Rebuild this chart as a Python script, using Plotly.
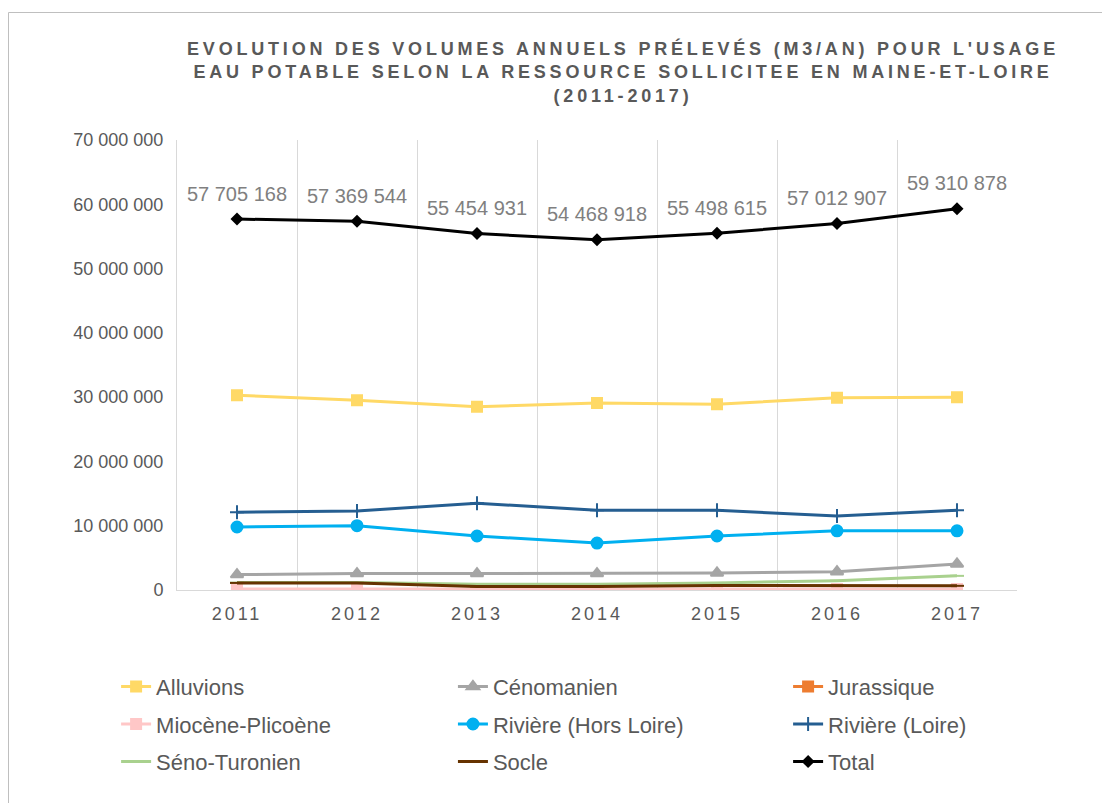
import plotly.graph_objects as go

years = ["2011", "2012", "2013", "2014", "2015", "2016", "2017"]

alluvions = [30300000, 29500000, 28500000, 29100000, 28900000, 29900000, 30000000]
cenomanien = [2400000, 2550000, 2550000, 2550000, 2650000, 2850000, 4050000]
jurassique = [30000, 30000, 30000, 30000, 30000, 30000, 30000]
miocene = [150000, 150000, 150000, 150000, 150000, 150000, 150000]
riviere_hors_loire = [9800000, 10000000, 8400000, 7300000, 8400000, 9200000, 9200000]
riviere_loire = [12100000, 12300000, 13500000, 12400000, 12400000, 11500000, 12400000]
seno_turonien = [1150000, 1150000, 900000, 900000, 1100000, 1450000, 2200000]
socle = [1100000, 1100000, 550000, 550000, 700000, 650000, 650000]
total = [57705168, 57369544, 55454931, 54468918, 55498615, 57012907, 59310878]
total_labels = ["57 705 168", "57 369 544", "55 454 931", "54 468 918",
                "55 498 615", "57 012 907", "59 310 878"]
y_tickvals = [0, 10000000, 20000000, 30000000, 40000000, 50000000, 60000000, 70000000]
y_ticktext = ["0", "10 000 000", "20 000 000", "30 000 000", "40 000 000",
              "50 000 000", "60 000 000", "70 000 000"]

# name, values, color, symbol, size, legend column
series = [
    ("Alluvions", alluvions, "#FFD966", "square", 10, "legend"),
    ("Cénomanien", cenomanien, "#A5A5A5", "triangle-up", 11, "legend2"),
    ("Jurassique", jurassique, "#ED7D31", "square", 10, "legend3"),
    ("Miocène-Plicoène", miocene, "#FFC7C7", "square", 10, "legend"),
    ("Rivière (Hors Loire)", riviere_hors_loire, "#00B0F0", "circle", 11, "legend2"),
    ("Rivière (Loire)", riviere_loire, "#255E91", "cross-thin", 10, "legend3"),
    ("Séno-Turonien", seno_turonien, "#A9D18E", "line-ew", 10, "legend"),
    ("Socle", socle, "#663300", "line-ew", 10, "legend2"),
]

FONT = "Liberation Sans, Arial"

# page body has an 8px margin: figure coordinates = screen - 8
W, H = 1102, 795
L, R, T, B = 169, 93, 132, 213
PW = W - L - R
PH = H - T - B

fig = go.Figure()
for name, vals, color, sym, size, leg in series:
    fig.add_trace(go.Scatter(
        x=years, y=vals, name=name, mode="lines+markers",
        legend=leg, legendgroup=name,
        line=dict(color=color, width=3),
        marker=dict(symbol=sym, size=size, color=color,
                    line=dict(color=color, width=2)),
    ))

fig.add_trace(go.Scatter(
    x=years, y=total, name="Total", mode="lines+markers",
    legend="legend3", legendgroup="Total",
    line=dict(color="#000000", width=3),
    marker=dict(symbol="diamond", size=10, color="#000000"),
))

# data labels of the total
fig.add_trace(go.Scatter(
    x=years, y=total, mode="markers+text", showlegend=False, hoverinfo="skip",
    marker=dict(size=20, color="rgba(0,0,0,0)"),
    text=total_labels, textposition="top center",
    textfont=dict(size=20, color="#808080", family=FONT),
))

title = ("EVOLUTION DES VOLUMES ANNUELS PRÉLEVÉS (M3/AN) POUR L'USAGE<br>"
         "EAU POTABLE SELON LA RESSOURCE SOLLICITEE EN MAINE-ET-LOIRE<br>"
         "(2011-2017)")

legend_common = dict(
    orientation="v", xanchor="left", yanchor="top", y=-0.168,
    font=dict(size=22, color="#595959", family=FONT),
    bgcolor="rgba(0,0,0,0)", tracegroupgap=6, itemwidth=30,
)

fig.update_layout(
    width=W, height=H,
    paper_bgcolor="white", plot_bgcolor="white",
    margin=dict(l=L, r=R, t=T, b=B, autoexpand=False),
    font=dict(family=FONT, color="#595959", size=16),
    title=dict(
        text="<b><span style='letter-spacing:3.8px'>" + title + "</span></b>",
        x=615 / W, xanchor="center",
        y=1 - 47 / H, yanchor="top",
        font=dict(size=18, color="#595959", family=FONT),
    ),
    xaxis=dict(
        type="category", tickson="boundaries", showgrid=True,
        gridcolor="#D9D9D9", gridwidth=1,
        showline=True, linecolor="#D9D9D9", linewidth=1,
        ticks="", tickfont=dict(size=18, color="#595959"),
        tickvals=years,
        ticktext=["<span style='letter-spacing:3px'>" + y + "</span>" for y in years],
        ticklabelstandoff=7,
        range=[-0.5, 6.5],
    ),
    yaxis=dict(
        range=[0, 70000000], tickvals=y_tickvals, ticktext=y_ticktext,
        showgrid=False, zeroline=False,
        showline=True, linecolor="#D9D9D9", linewidth=1,
        ticks="", tickfont=dict(size=18, color="#595959"),
        ticklabelstandoff=9,
    ),
    legend=dict(x=-0.0725, **legend_common),
    legend2=dict(x=0.3285, **legend_common),
    legend3=dict(x=0.7275, **legend_common),
    showlegend=True,
)

fig.add_shape(type="rect", xref="paper", yref="paper",
              x0=(0.5 - L) / PW, x1=(W + 30 - L) / PW,
              y0=-(B + 30) / PH, y1=(PH + T - 4.5) / PH,
              line=dict(color="#BFBFBF", width=1), fillcolor="rgba(0,0,0,0)",
              layer="below")

fig.write_html("out.html")
